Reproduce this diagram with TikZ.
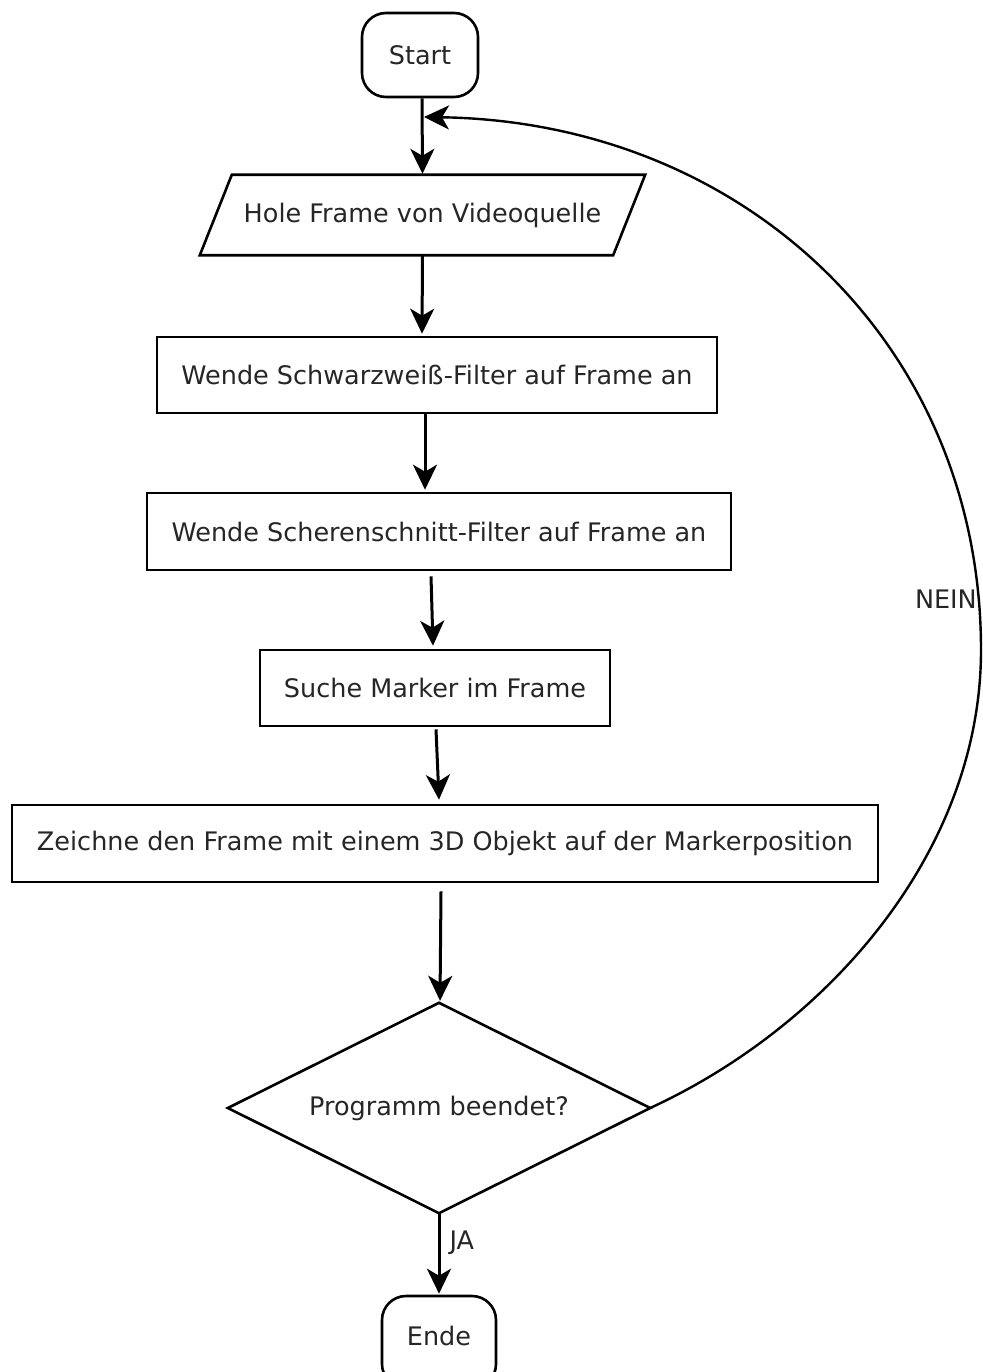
\documentclass[tikz,border=0pt]{standalone}
\usepackage{fontspec}
\setmainfont{DejaVu Sans}
\usetikzlibrary{shapes.geometric,arrows.meta,calc}
\begin{document}
\begin{tikzpicture}[x=1pt,y=-1pt,
  every node/.style={font=\fontsize{25.5}{28}\selectfont, text=black!85},
  box/.style={draw=black, line width=2.6pt, rectangle, inner sep=0pt},
  term/.style={draw=black, line width=2.6pt, rectangle, rounded corners=24pt, inner sep=0pt},
  plain/.style={inner sep=0pt},
  arr/.style={line width=3pt, -{Stealth[length=25pt,width=24pt,inset=7pt]}},
  loop/.style={line width=2.4pt, -{Stealth[length=25pt,width=24pt,inset=7pt]}}
]
\useasboundingbox (0,0) rectangle (982,1372);
\fill[white] (0,0) rectangle (982,1372);

% Start / Ende
\node[term, minimum width=116pt, minimum height=84pt] (start) at (420,55) {Start};
\node[term, minimum width=114pt, minimum height=92pt] (ende) at (439,1342) {};
\node[plain] (endetxt) at (439,1336) {Ende};

% Parallelogram
\node[plain, minimum width=445pt, minimum height=80pt] (hole) at (422.5,215) {Hole Frame von Videoquelle};
\draw[line width=2.6pt, line join=miter] (hole.south west) -- ($(hole.south east)+(-32,0)$) -- (hole.north east) -- ($(hole.north west)+(32,0)$) -- cycle;

% Boxes
\node[box, minimum width=560pt, minimum height=76pt] (b1) at (437,375) {Wende Schwarzweiß-Filter auf Frame an};
\node[box, minimum width=584pt, minimum height=77pt] (b2) at (439,531.5) {Wende Scherenschnitt-Filter auf Frame an};
\node[box, minimum width=350pt, minimum height=76pt] (b3) at (435,688) {Suche Marker im Frame};
\node[box, minimum width=866pt, minimum height=77pt] (b4) at (445,843.5) {Zeichne den Frame mit einem 3D Objekt auf der Markerposition};

% Decision
\node[plain, minimum width=422pt, minimum height=210pt] (dec) at (439,1108) {Programm beendet?};
\draw[line width=2.6pt, line join=miter] (dec.west) -- (dec.north) -- (dec.east) -- (dec.south) -- cycle;

% Connectors
\draw[arr] ($(start.south)+(2,0)$) -- ($(hole.north)+(0,-1)$);
\draw[arr] (hole.south) -- ($(b1.north)+(-15,-2)$);
\draw[arr] ($(b1.south)+(-12,0)$) -- ($(b2.north)+(-14,-2)$);
\draw[arr] ($(b2.south)+(-8,5)$) -- ($(b3.north)+(-2,-3)$);
\draw[arr] ($(b3.south)+(1,2)$) -- ($(b4.north)+(-6,-4)$);
\draw[arr] ($(b4.south)+(-4,8)$) -- ($(dec.north)+(1,-2)$);
\draw[arr] (dec.south) -- ($(ende.north)+(0,-1)$) node[pos=0.37, right=9pt, plain] (ja) {JA};

\coordinate (loopend) at (424,117);
\draw[loop] (dec.east) .. controls (830,1025) and (981,850) .. (981,650)
  .. controls (981,345) and (745,122) .. (loopend);
\node[plain, anchor=east] (nein) at (977,599) {NEIN};
\end{tikzpicture}
\end{document}
